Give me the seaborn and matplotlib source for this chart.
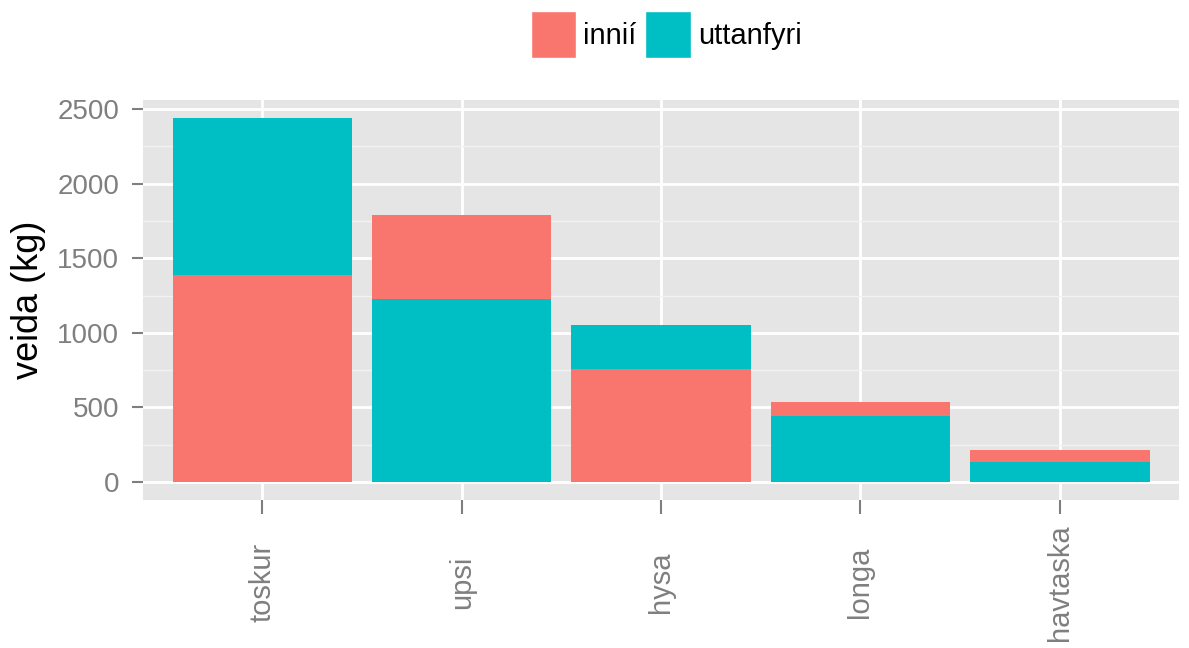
import pandas as pd
import seaborn as sns
import matplotlib.pyplot as plt
from matplotlib.patches import Patch
from matplotlib.ticker import MultipleLocator

# catch per species, split by inside / outside
fish = ["toskur", "upsi", "hysa", "longa", "havtaska"]
inni = [1390, 560, 755, 95, 80]
uttanfyri = [1050, 1230, 300, 440, 135]
groups = ["innií", "uttanfyri"]
colours = {"innií": "#F8766D", "uttanfyri": "#00BFC4"}

# larger part sits at the bottom of each stack
rows = []
for f, a, b in zip(fish, inni, uttanfyri):
    if a >= b:
        bottom, top = ("innií", a), ("uttanfyri", b)
    else:
        bottom, top = ("uttanfyri", b), ("innií", a)
    rows.append({"fish": f, "total": a + b, "top": top[0],
                 "base": bottom[1], "bottom": bottom[0]})
df = pd.DataFrame(rows)

sns.set_theme(style="white")
plt.rcParams["font.family"] = ["Liberation Sans", "DejaVu Sans"]

fig = plt.figure(figsize=(11.89, 6.48), dpi=100)
ax = fig.add_axes([0.120, 0.228, 0.872, 0.618])
ax.set_facecolor("#E5E5E5")

sns.barplot(data=df, x="fish", y="total", hue="top", palette=colours,
            dodge=False, width=0.9, order=fish, legend=False, ax=ax,
            saturation=1, linewidth=0)
sns.barplot(data=df, x="fish", y="base", hue="bottom", palette=colours,
            dodge=False, width=0.9, order=fish, legend=False, ax=ax,
            saturation=1, linewidth=0)

ax.set_xlim(-0.6, 4.6)
ax.set_ylim(-122, 2562)
ax.yaxis.set_major_locator(MultipleLocator(500))
ax.yaxis.set_minor_locator(MultipleLocator(250))
ax.grid(which="major", color="white", linewidth=2)
ax.grid(which="minor", axis="y", color="#F2F2F2", linewidth=1)
ax.set_axisbelow(True)
for s in ax.spines.values():
    s.set_visible(False)

ax.tick_params(axis="both", which="major", width=1.5,
               color="#7F7F7F", labelcolor="#7F7F7F", labelsize=20)
ax.tick_params(axis="y", which="minor", length=0)
ax.tick_params(axis="y", left=True, length=8, pad=9)
ax.tick_params(axis="x", bottom=True, length=10, pad=49, labelsize=21,
               labelrotation=90)
for lab in ax.get_xticklabels():
    lab.set_verticalalignment("center")
ax.set_xlabel("")
ax.set_ylabel("veida (kg)", fontsize=26, color="black", labelpad=8)

handles = [Patch(facecolor=colours[g], edgecolor="white") for g in groups]
ax.legend(handles, groups, loc="center", bbox_to_anchor=(0.505, 1.1625),
          ncol=2, frameon=False, fontsize=21, labelcolor="black",
          handlelength=1.55, handleheight=2.1, handletextpad=0.25,
          columnspacing=0.3)

fig.savefig("out.png", dpi=100)
